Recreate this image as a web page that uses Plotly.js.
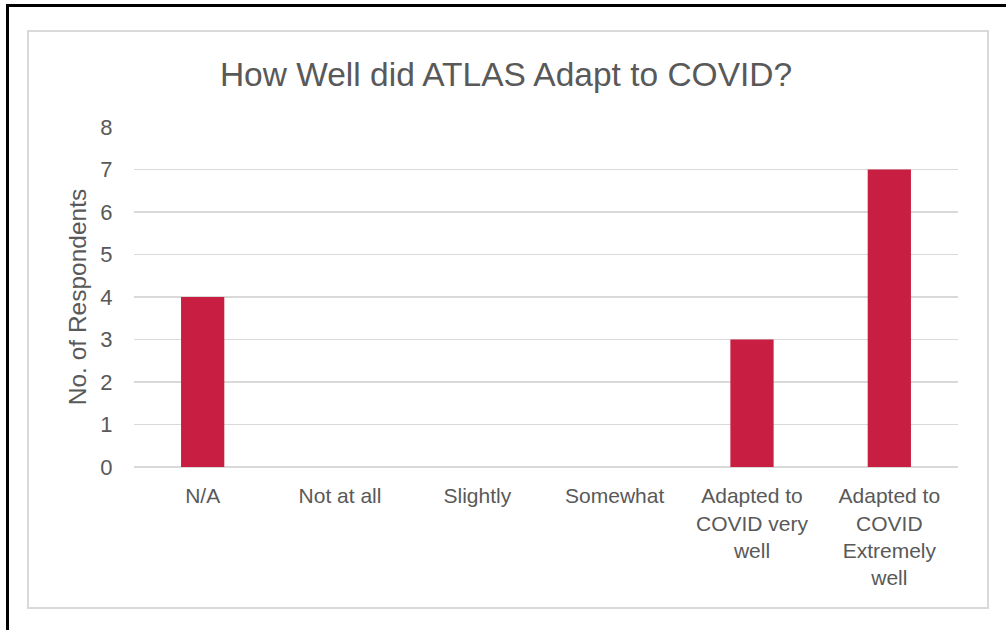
<!DOCTYPE html>
<html>
<head>
<meta charset="utf-8">
<script src="https://cdn.plot.ly/plotly-3.0.1.min.js"></script>
<style>
  html, body { margin: 0; padding: 0; background: #ffffff; }
  #wrap { position: relative; width: 1006px; height: 630px; overflow: hidden; }
  #chart { position: absolute; left: 0; top: 0; width: 1006px; height: 630px; }
  .frame-top { position: absolute; left: 6px; top: 4px; width: 1000px; height: 3px; background: #000; pointer-events: none; }
  .frame-left { position: absolute; left: 6px; top: 4px; width: 3px; height: 626px; background: #000; pointer-events: none; }
  .inner { position: absolute; left: 27px; top: 30px; width: 958px; height: 575px; border: 2px solid #d9d9d9; pointer-events: none; }
</style>
</head>
<body>
<div id="wrap">
  <div id="chart"></div>
  <div class="inner"></div>
  <div class="frame-top"></div>
  <div class="frame-left"></div>
</div>
<script>
const categories = [
  "N/A",
  "Not at all",
  "Slightly",
  "Somewhat",
  "Adapted to<br>COVID very<br>well",
  "Adapted to<br>COVID<br>Extremely<br>well"
];
const respondents = [4, 0, 0, 0, 3, 7];
const yTicks = [0, 1, 2, 3, 4, 5, 6, 7, 8];

const textColor = "#595959";
const font = "Liberation Sans, Arial, sans-serif";

const trace = {
  type: "bar",
  x: categories,
  y: respondents,
  marker: { color: "#C81E41" },
  hoverinfo: "x+y"
};

const layout = {
  width: 1006,
  height: 630,
  margin: { l: 134, r: 48, t: 127, b: 163, pad: 0 },
  paper_bgcolor: "rgba(0,0,0,0)",
  plot_bgcolor: "rgba(0,0,0,0)",
  bargap: 0.685,
  showlegend: false,
  font: { family: font, color: textColor },
  title: {
    text: "How Well did ATLAS Adapt to COVID?",
    font: { family: font, size: 33.5, color: textColor },
    xref: "container", yref: "container",
    x: 0.503, xanchor: "center",
    y: 0.882, yanchor: "middle"
  },
  xaxis: {
    type: "category",
    showgrid: false,
    showline: false,
    zeroline: false,
    ticks: "outside",
    ticklen: 10,
    tickcolor: "rgba(0,0,0,0)",
    tickfont: { family: font, size: 21, color: textColor },
    tickangle: 0
  },
  yaxis: {
    range: [0, 8],
    tickvals: yTicks,
    ticktext: yTicks.map(String),
    showgrid: true,
    gridcolor: "#d9d9d9",
    gridwidth: 1.5,
    zeroline: true,
    zerolinecolor: "#d9d9d9",
    zerolinewidth: 1.5,
    showline: false,
    ticks: "outside",
    ticklen: 16,
    tickcolor: "rgba(0,0,0,0)",
    tickfont: { family: font, size: 22, color: textColor },
    title: {
      text: "No. of Respondents",
      font: { family: font, size: 24.5, color: textColor },
      standoff: 6
    }
  }
};

Plotly.newPlot("chart", [trace], layout, { displayModeBar: false, staticPlot: true });
</script>
</body>
</html>
